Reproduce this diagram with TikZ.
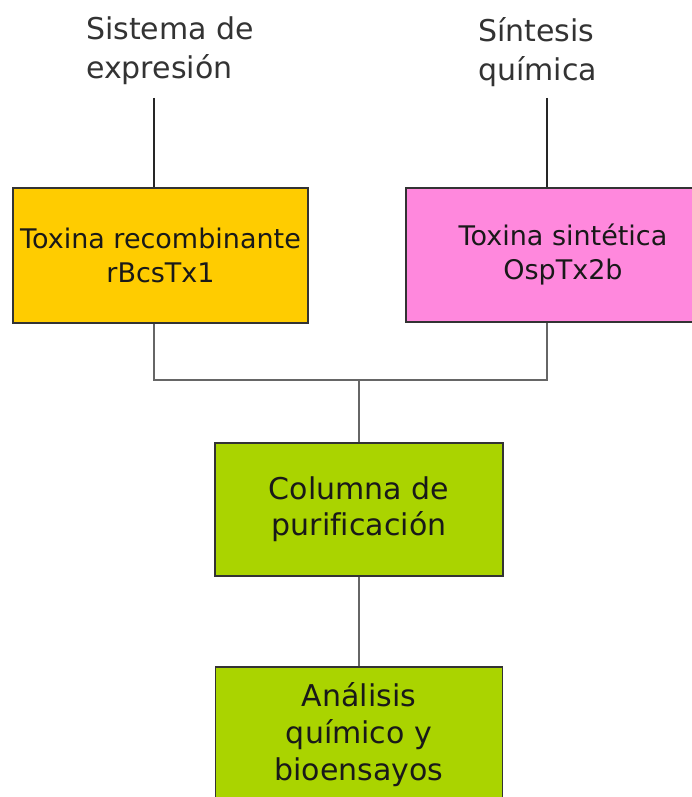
\documentclass[tikz,border=0pt]{standalone}
\usepackage{fontspec}
\setmainfont[Ligatures=NoCommon]{DejaVu Sans}
\definecolor{amarillo}{HTML}{FFCC00}
\definecolor{rosa}{HTML}{FF88DD}
\definecolor{verde}{HTML}{AAD400}

\begin{document}
\begin{tikzpicture}[x=1pt,y=-1pt,
    caja/.style={draw=black!80, line width=1.3pt, inner sep=0pt, align=center, text=black!90},
    texto/.style={inner sep=0pt, align=left, text=black!80, font=\fontsize{30}{39}\selectfont},
    linea/.style={black!85, line width=1.6pt},
    lineagris/.style={black!60, line width=1.8pt}]
     \useasboundingbox (0,0) rectangle (691,797);
     \fill[white] (0,0) rectangle (691,797);

     \node[texto, anchor=north west] (sistema) at (86,17) {Sistema de\\expresión};
     \node[texto, anchor=north west] (sintesis) at (478,17) {Síntesis\\química};

     \node[caja, fill=amarillo, minimum width=295pt, minimum height=135pt, font=\fontsize{27}{34}\selectfont] (recomb) at (160.5,255.5) {Toxina recombinante\\rBcsTx1};
     \node[caja, fill=rosa, minimum width=314pt, minimum height=134pt, font=\fontsize{27}{34}\selectfont] (sintet) at (563,255) {Toxina sintética\\OspTx2b};
     \node[caja, fill=verde, minimum width=288pt, minimum height=133pt, font=\fontsize{30}{36}\selectfont] (columna) at (359,509.5) {Columna de\\purificación};
     \node[caja, fill=verde, minimum width=287pt, minimum height=136pt, font=\fontsize{30}{37}\selectfont] (analisis) at (359,735) {Análisis\\químico y\\bioensayos};

     \coordinate (finsis) at (154,98);
     \coordinate (finsin) at (547,98);
     \coordinate (union) at (359,380);

     \draw[linea] (finsis) -- (finsis |- recomb.north);
     \draw[linea] (finsin) -- (finsin |- sintet.north);
     \draw[lineagris] (recomb.south -| finsis) -- (finsis |- union) -| (sintet.south -| finsin);
     \draw[lineagris] (union) -- (columna.north);
     \draw[lineagris] (columna.south) -- (analisis.north);
\end{tikzpicture}
\end{document}
